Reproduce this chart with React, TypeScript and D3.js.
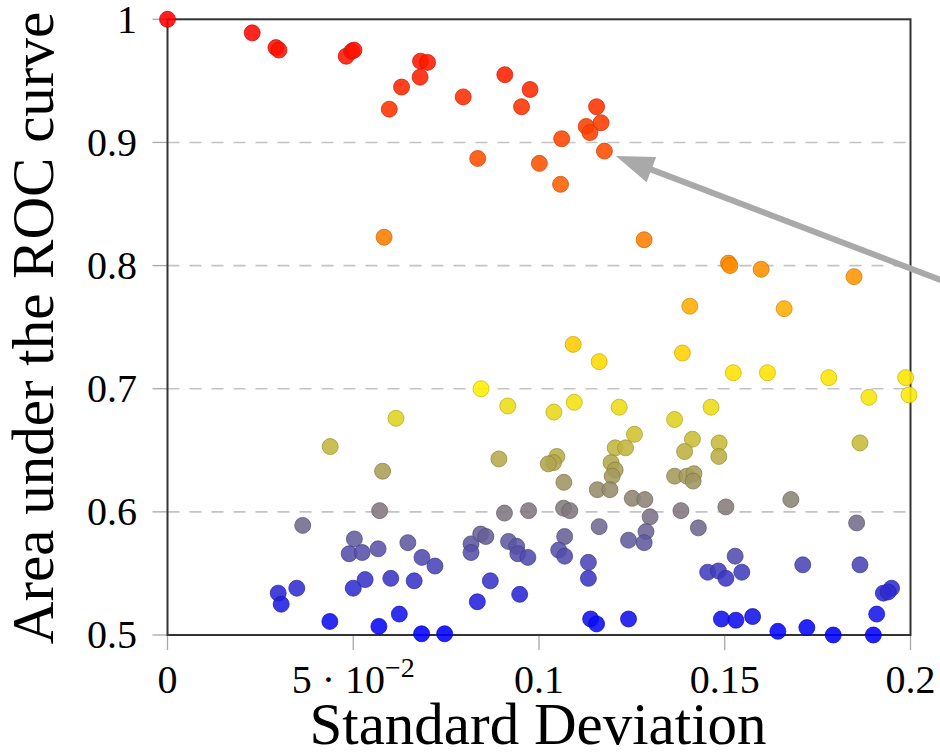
import * as d3 from "d3";
import {useEffect, useRef} from "react";

// standard deviation (x) and area under the ROC curve (y), one entry per run
const stdDev = [
    0, 0.0228, 0.0292, 0.0300, 0.0481, 0.0496, 0.0502, 0.0597, 0.0630, 0.0680,
    0.0681, 0.0700, 0.0796, 0.0835, 0.0908, 0.0953, 0.0976, 0.1001, 0.1061, 0.1058,
    0.1155, 0.1167, 0.1127, 0.1137, 0.1176, 0.0583, 0.1283, 0.1510, 0.1514, 0.1598,
    0.1848, 0.1406, 0.1660, 0.1092, 0.1162, 0.1386, 0.1523, 0.1615, 0.1780, 0.1987,
    0.1888, 0.1996, 0.0844, 0.0916, 0.0615, 0.1040, 0.1095, 0.1216, 0.1365, 0.1463,
    0.0438, 0.0892, 0.0579, 0.1257, 0.1205, 0.1233, 0.1413, 0.1485, 0.1392, 0.1484,
    0.1864, 0.1048, 0.1039, 0.1025, 0.1194, 0.1205, 0.1197, 0.1067, 0.1365, 0.1398,
    0.1417, 0.1415, 0.1157, 0.1191, 0.1251, 0.1285, 0.1678, 0.1066, 0.1083, 0.1382,
    0.1503, 0.0571, 0.0907, 0.0972, 0.1299, 0.1288, 0.1162, 0.1429, 0.1855, 0.0364,
    0.1069, 0.1053, 0.1069, 0.1241, 0.1283, 0.1133, 0.1133, 0.1528, 0.1454, 0.1483,
    0.1503, 0.1546, 0.1710, 0.1864, 0.0503, 0.0489, 0.0524, 0.0567, 0.0647, 0.0685,
    0.0720, 0.0817, 0.0817, 0.0843, 0.0857, 0.0918, 0.0940, 0.0943, 0.0970, 0.0298,
    0.0306, 0.0348, 0.0500, 0.0532, 0.0601, 0.0664, 0.0869, 0.0834, 0.0948, 0.1949,
    0.1927, 0.1940, 0.1909, 0.0437, 0.0569, 0.0624, 0.0684, 0.0746, 0.1139, 0.1155,
    0.1241, 0.1491, 0.1530, 0.1575, 0.1643, 0.1721, 0.1792, 0.1900
];

const auc = [
    1.000, 0.989, 0.977, 0.975, 0.970, 0.974, 0.975, 0.927, 0.945, 0.953,
    0.966, 0.965, 0.937, 0.887, 0.955, 0.929, 0.943, 0.883, 0.903, 0.866,
    0.929, 0.916, 0.913, 0.908, 0.893, 0.823, 0.821, 0.802, 0.800, 0.797,
    0.791, 0.767, 0.765, 0.736, 0.722, 0.729, 0.713, 0.713, 0.709, 0.709,
    0.693, 0.695, 0.700, 0.686, 0.676, 0.681, 0.689, 0.685, 0.675, 0.685,
    0.653, 0.643, 0.633, 0.663, 0.652, 0.652, 0.659, 0.656, 0.649, 0.645,
    0.656, 0.645, 0.640, 0.639, 0.640, 0.634, 0.629, 0.624, 0.629, 0.629,
    0.631, 0.625, 0.618, 0.618, 0.611, 0.610, 0.610, 0.603, 0.601, 0.601,
    0.604, 0.601, 0.599, 0.601, 0.596, 0.584, 0.588, 0.587, 0.591, 0.589,
    0.580, 0.569, 0.564, 0.577, 0.575, 0.559, 0.546, 0.564, 0.551, 0.552,
    0.546, 0.551, 0.557, 0.557, 0.578, 0.566, 0.567, 0.570, 0.575, 0.563,
    0.556, 0.574, 0.567, 0.582, 0.580, 0.576, 0.572, 0.566, 0.563, 0.534,
    0.525, 0.538, 0.538, 0.545, 0.546, 0.544, 0.544, 0.527, 0.533, 0.538,
    0.534, 0.535, 0.517, 0.511, 0.507, 0.517, 0.501, 0.501, 0.513, 0.509,
    0.513, 0.513, 0.512, 0.515, 0.503, 0.506, 0.500, 0.500
];

const xTicks = [0, 0.05, 0.1, 0.15, 0.2];
const yTicks = [0.5, 0.6, 0.7, 0.8, 0.9, 1];
const gridTicks = [0.6, 0.7, 0.8, 0.9];

// colormap stops (AUC value -> colour)
const colorStops = [0.5, 0.7, 0.8, 1];
const colorList = ["#0000ff", "#ffee00", "#ff8c00", "#ff0000"];

// arrow annotation, data coords: tail then head
const arrowTail = [0.2214, 0.773];
const arrowHead = [0.1207, 0.889];

const W = 940;
const H = 752;
const FONT = "'Liberation Serif', 'Times New Roman', serif";

const App = () => {
    const chartRef = useRef(null);

    useEffect(() => {
        document.body.style.margin = "0";
        const svg = d3.select(chartRef.current);
        svg.selectAll("*").remove();

        const x = d3.scaleLinear().domain([0, 0.2]).range([167.5, 910.5]);
        const y = d3.scaleLinear().domain([0.5, 1]).range([635, 19.3]);
        const color = d3.scaleLinear<string>()
            .domain(colorStops)
            .range(colorList)
            .interpolate(d3.interpolateRgb);

        // grid
        svg.append("g")
            .selectAll("line")
            .data(gridTicks)
            .enter()
            .append("line")
            .attr("x1", x(0))
            .attr("x2", x(0.2))
            .attr("y1", d => y(d))
            .attr("y2", d => y(d))
            .attr("stroke", "#c4c4c4")
            .attr("stroke-width", 1.6)
            .attr("stroke-dasharray", "12 10");

        // tick marks (outside)
        svg.append("g")
            .selectAll("line")
            .data(yTicks)
            .enter()
            .append("line")
            .attr("x1", x(0) - 15)
            .attr("x2", x(0))
            .attr("y1", d => y(d))
            .attr("y2", d => y(d))
            .attr("stroke", "#a8a8a8")
            .attr("stroke-width", 1.3);

        svg.append("g")
            .selectAll("line")
            .data(xTicks)
            .enter()
            .append("line")
            .attr("x1", d => x(d))
            .attr("x2", d => x(d))
            .attr("y1", y(0.5))
            .attr("y2", y(0.5) + 15)
            .attr("stroke", "#a8a8a8")
            .attr("stroke-width", 1.3);

        // frame
        svg.append("rect")
            .attr("x", x(0))
            .attr("y", y(1))
            .attr("width", x(0.2) - x(0))
            .attr("height", y(0.5) - y(1))
            .attr("fill", "none")
            .attr("stroke", "#333")
            .attr("stroke-width", 2);

        // tick labels
        svg.append("g")
            .selectAll("text")
            .data(yTicks)
            .enter()
            .append("text")
            .attr("x", 137)
            .attr("y", d => y(d))
            .attr("dy", "0.33em")
            .attr("text-anchor", "end")
            .attr("font-family", FONT)
            .attr("font-size", 40)
            .text(d => (d === 1 ? "1" : d3.format(".1f")(d)));

        const xLab = svg.append("g")
            .selectAll("text")
            .data(xTicks)
            .enter()
            .append("text")
            .attr("x", d => x(d))
            .attr("y", 693)
            .attr("text-anchor", "middle")
            .attr("font-family", FONT)
            .attr("font-size", 40);

        xLab.each(function (d) {
            const t = d3.select(this);
            if (d === 0.05) {
                t.append("tspan").text("5 \u00b7 10");
                t.append("tspan")
                    .attr("dy", -16)
                    .attr("font-size", 28)
                    .text("\u22122");
            } else {
                t.text(d === 0 ? "0" : String(d));
            }
        });

        // axis titles
        svg.append("text")
            .attr("x", 538)
            .attr("y", 744)
            .attr("text-anchor", "middle")
            .attr("font-family", FONT)
            .attr("font-size", 59)
            .text("Standard Deviation");

        svg.append("text")
            .attr("transform", `translate(53, 328) rotate(-90)`)
            .attr("text-anchor", "middle")
            .attr("font-family", FONT)
            .attr("font-size", 59)
            .text("Area under the ROC curve");

        // points
        const pts = stdDev.map((s, i) => ({s, a: auc[i]}));
        svg.append("g")
            .selectAll("circle")
            .data(pts)
            .enter()
            .append("circle")
            .attr("cx", d => x(d.s))
            .attr("cy", d => y(d.a))
            .attr("r", 8)
            .attr("fill", d => color(d.a))
            .attr("fill-opacity", 0.88)
            .attr("stroke", d => d3.color(color(d.a)).darker(0.7).formatHex())
            .attr("stroke-opacity", 0.7)
            .attr("stroke-width", 1);

        // arrow
        const hx = x(arrowHead[0]);
        const hy = y(arrowHead[1]);
        const tx = x(arrowTail[0]);
        const ty = y(arrowTail[1]);
        const len = Math.hypot(tx - hx, ty - hy);
        const ux = (tx - hx) / len;
        const uy = (ty - hy) / len;
        const headLen = 38;
        const halfW = 13.5;
        const bx = hx + ux * headLen;
        const by = hy + uy * headLen;

        svg.append("line")
            .attr("x1", bx - ux * 2)
            .attr("y1", by - uy * 2)
            .attr("x2", tx)
            .attr("y2", ty)
            .attr("stroke", "#a9a9a9")
            .attr("stroke-width", 6);

        svg.append("path")
            .attr("d", `M${hx},${hy}L${bx - uy * halfW},${by + ux * halfW}L${bx + uy * halfW},${by - ux * halfW}Z`)
            .attr("fill", "#a9a9a9");
    }, []);

    return (
        <svg ref={chartRef} width={W} height={H}
             style={{display: "block", background: "#fff"}}></svg>
    );
};

export default App;
